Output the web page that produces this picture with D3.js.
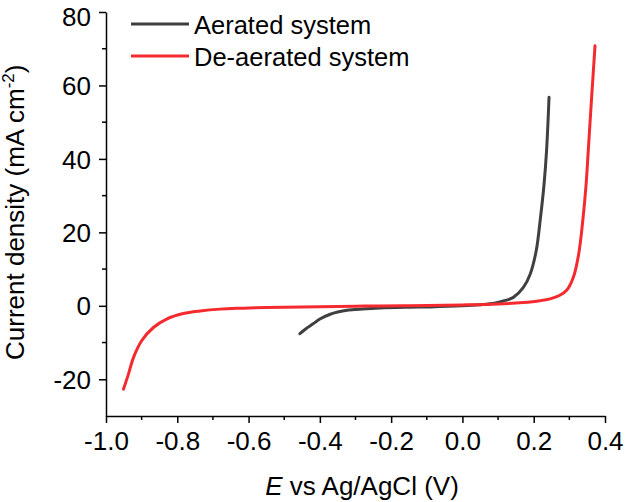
<!DOCTYPE html>
<html>
<head>
<meta charset="utf-8">
<script src="https://cdn.jsdelivr.net/npm/d3@7"></script>
<style>
  body { margin: 0; background: #fff; }
  text { font-family: "Liberation Sans", Arial, sans-serif; fill: #000; }
</style>
</head>
<body>
<svg id="chart" width="625" height="502"></svg>
<script>
// Data (E in V, J in mA cm-2)
var aeratedE = [-0.456, -0.44, -0.419, -0.40, -0.371, -0.35, -0.324, -0.28, -0.231, -0.15, -0.09, 0.0, 0.05, 0.09, 0.115, 0.143, 0.171, 0.190, 0.207, 0.219, 0.229, 0.236, 0.243];
var aeratedJ = [-7.6, -6.3, -4.9, -3.6, -2.3, -1.7, -1.2, -0.85, -0.6, -0.4, -0.3, 0.0, 0.3, 0.7, 1.3, 2.3, 5.0, 8.6, 15.0, 24.0, 33.1, 42.2, 56.8];

var deaeratedE = [-0.951, -0.937, -0.923, -0.900, -0.867, -0.830, -0.783, -0.736, -0.68, -0.62, -0.55, -0.45, -0.3, -0.15, 0.0, 0.1, 0.17, 0.218, 0.246, 0.272, 0.293, 0.311, 0.326, 0.338, 0.347, 0.353, 0.362, 0.372];
var deaeratedJ = [-22.7, -18.6, -14.1, -9.5, -5.9, -3.6, -2.1, -1.4, -0.9, -0.65, -0.45, -0.3, -0.1, 0.05, 0.25, 0.5, 0.9, 1.4, 1.9, 2.8, 4.3, 7.7, 14.0, 23.5, 33.1, 42.2, 56, 70.8];

var seriesNames = ["Aerated system", "De-aerated system"];
var seriesColors = ["#404040", "#f52a2e"];

var xTicks = [-1.0, -0.8, -0.6, -0.4, -0.2, 0.0, 0.2, 0.4];
var xMinor = [-0.9, -0.7, -0.5, -0.3, -0.1, 0.1, 0.3];
var yTicks = [-20, 0, 20, 40, 60, 80];
var yMinor = [-10, 10, 30, 50, 70];

var svg = d3.select("#chart");

var x = d3.scaleLinear().domain([-1.0, 0.4]).range([106, 605]);
var y = d3.scaleLinear().domain([-30, 80]).range([416, 12]);

// plain hyphen for negative numbers, as in the original
function hy(f){ return function(d){ return f(d).replace("\u2212", "-"); }; }

// Axes
var xAxis = d3.axisBottom(x).tickValues(xTicks).tickFormat(hy(d3.format(".1f"))).tickSize(7).tickSizeOuter(0);
var yAxis = d3.axisLeft(y).tickValues(yTicks).tickFormat(hy(d3.format("d"))).tickSize(7).tickSizeOuter(0);

var gx = svg.append("g").attr("transform", "translate(0,416)").call(xAxis);
var gy = svg.append("g").attr("transform", "translate(106,0)").call(yAxis);

// minor ticks
svg.append("g").selectAll("line").data(xMinor).enter().append("line")
  .attr("x1", function(d){ return x(d); }).attr("x2", function(d){ return x(d); })
  .attr("y1", 416).attr("y2", 420)
  .attr("stroke", "#000").attr("stroke-width", 1.5);
svg.append("g").selectAll("line").data(yMinor).enter().append("line")
  .attr("x1", 102).attr("x2", 106)
  .attr("y1", function(d){ return y(d); }).attr("y2", function(d){ return y(d); })
  .attr("stroke", "#000").attr("stroke-width", 1.5);

[gx, gy].forEach(function(g){
  g.select(".domain").attr("stroke", "#000").attr("stroke-width", 1.5);
  g.selectAll(".tick line").attr("stroke", "#000").attr("stroke-width", 1.5);
  g.selectAll(".tick text").style("font-family", "Liberation Sans, Arial, sans-serif").style("font-size", "26px").attr("fill", "#000");
});
gx.selectAll(".tick text").attr("dy", "0").attr("y", 34);
gy.selectAll(".tick text").attr("x", -15).attr("dy", "0.35em");
// top label sits a little below its tick
gy.selectAll(".tick").filter(function(d){ return d === 80; }).select("text").attr("y", 4);

// Axis titles
var xt = svg.append("text").attr("x", 362).attr("y", 495).attr("text-anchor", "middle").style("font-size", "26px");
xt.append("tspan").style("font-style", "italic").text("E");
xt.append("tspan").text(" vs Ag/AgCl (V)");

var yt = svg.append("text").attr("transform", "translate(24,360) rotate(-90)").attr("text-anchor", "start").style("font-size", "26px");
yt.append("tspan").text("Current density (mA cm");
yt.append("tspan").attr("dy", -10).style("font-size", "17px").text("-2");
yt.append("tspan").attr("dy", 10).text(")");

// Curves
var line = d3.line()
  .x(function(d){ return x(d[0]); })
  .y(function(d){ return y(d[1]); })
  .curve(d3.curveCatmullRom.alpha(0.5));

var aerated = aeratedE.map(function(e, i){ return [e, aeratedJ[i]]; });
var deaerated = deaeratedE.map(function(e, i){ return [e, deaeratedJ[i]]; });

svg.append("path").datum(aerated).attr("d", line)
  .attr("fill", "none").attr("stroke", seriesColors[0]).attr("stroke-width", 3).attr("stroke-linecap", "round");
svg.append("path").datum(deaerated).attr("d", line)
  .attr("fill", "none").attr("stroke", seriesColors[1]).attr("stroke-width", 3).attr("stroke-linecap", "round");

// Legend
var legend = svg.append("g");
seriesNames.forEach(function(name, i){
  var ly = 24 + i * 32;
  legend.append("line").attr("x1", 131).attr("x2", 189).attr("y1", ly).attr("y2", ly)
    .attr("stroke", seriesColors[i]).attr("stroke-width", 3);
  legend.append("text").attr("x", 194).attr("y", ly + 10).style("font-size", "25.5px").text(name);
});
</script>
</body>
</html>
